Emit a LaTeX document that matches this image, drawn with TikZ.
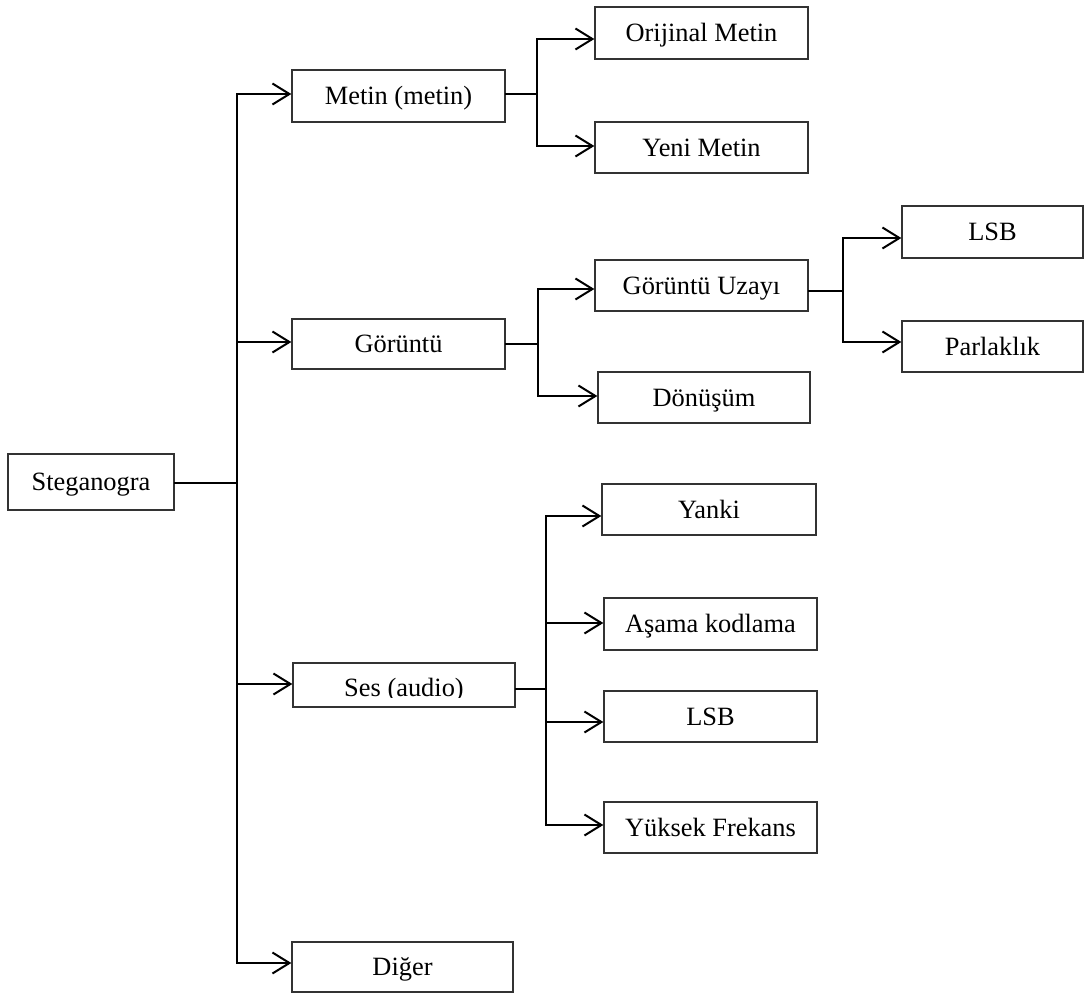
\documentclass[tikz,border=0pt]{standalone}
\usepackage{fontspec}
\setmainfont{Liberation Serif}
\usetikzlibrary{arrows.meta}
\begin{document}
\begin{tikzpicture}[x=1pt,y=-1pt,
  box/.style={draw=black!80, line width=1.3pt, rectangle, inner sep=0pt,
    text height=17.4pt, text depth=0pt, font=\fontsize{26.4}{30}\selectfont},
  lbl/.style={inner sep=0pt, font=\fontsize{26.4}{30}\selectfont},
  conn/.style={draw=black, line width=2pt, line cap=rect},
  arr/.style={draw=black, line width=2pt,
    -{Straight Barb[length=17pt,width=21pt,line width=2pt]}}
]
\useasboundingbox (0,0) rectangle (1085,993);
\fill[white] (0,0) rectangle (1085,993);

% boxes (centre, width, height)
\newcommand{\bx}[7]{\node[box, minimum width=#4-#2, minimum height=#5-#3] (#1) at ({(#2+#4)/2},{(#3+#5)/2}) {#6#7};}
\bx{stego}{8}{454}{174}{510}{Steganogra}{}
\bx{metin}{292}{70}{505}{122}{Metin (metin)}{}
\bx{gor}{292}{319}{505}{369}{Görüntü}{}
\node[box, minimum width=222, minimum height=44] (ses) at (404,685) {};
\begin{scope}
  \clip (294,664) rectangle (514,697.5);
  \node[lbl, anchor=base] (sestext) at (404,696.5) {Ses (audio)};
\end{scope}
\bx{diger}{292}{942}{513}{992}{Diğer}{}
\bx{orij}{595}{7}{808}{59}{Orijinal Metin}{}
\bx{yeni}{595}{122}{808}{173}{Yeni Metin}{}
\bx{gu}{595}{260}{808}{311}{Görüntü Uzayı}{}
\bx{don}{598}{372}{810}{423}{Dönüşüm}{}
\bx{lsbA}{902}{206}{1083}{258}{LSB}{}
\bx{parl}{902}{321}{1083}{372}{Parlaklık}{}
\bx{yanki}{602}{484}{816}{535}{Yanki}{}
\bx{asama}{604}{598}{817}{650}{Aşama kodlama}{}
\bx{lsbB}{604}{691}{817}{742}{LSB}{}
\bx{yuksek}{604}{802}{817}{853}{Yüksek Frekans}{}

% junction coordinates
\coordinate (tSt) at (237,483);
\coordinate (tM) at (237,94);
\coordinate (tG) at (237,342);
\coordinate (tS) at (237,684);
\coordinate (tD) at (237,963);
\coordinate (m0) at (537,94);
\coordinate (mO) at (537,39);
\coordinate (mY) at (537,146);
\coordinate (g0) at (538,344);
\coordinate (gU) at (538,289);
\coordinate (gD) at (538,396);
\coordinate (u0) at (843,291);
\coordinate (uL) at (843,238);
\coordinate (uP) at (843,342);
\coordinate (s0) at (546,689);
\coordinate (sY) at (546,516);
\coordinate (sA) at (546,623);
\coordinate (sL) at (546,722);
\coordinate (sF) at (546,825);

% root
\draw[conn] (stego.east |- tSt) -- (tSt);
\draw[conn] (tM) -- (tD);
\draw[arr] (tM) -- (tM -| metin.west);
\draw[arr] (tG) -- (tG -| gor.west);
\draw[arr] (tS) -- (tS -| ses.west);
\draw[arr] (tD) -- (tD -| diger.west);
% metin
\draw[conn] (metin.east |- m0) -- (m0);
\draw[conn] (mO) -- (mY);
\draw[arr] (mO) -- (mO -| orij.west);
\draw[arr] (mY) -- (mY -| yeni.west);
% goruntu
\draw[conn] (gor.east |- g0) -- (g0);
\draw[conn] (gU) -- (gD);
\draw[arr] (gU) -- (gU -| gu.west);
\draw[arr] (gD) -- (gD -| don.west);
% goruntu uzayi
\draw[conn] (gu.east |- u0) -- (u0);
\draw[conn] (uL) -- (uP);
\draw[arr] (uL) -- (uL -| lsbA.west);
\draw[arr] (uP) -- (uP -| parl.west);
% ses
\draw[conn] (ses.east |- s0) -- (s0);
\draw[conn] (sY) -- (sF);
\draw[arr] (sY) -- (sY -| yanki.west);
\draw[arr] (sA) -- (sA -| asama.west);
\draw[arr] (sL) -- (sL -| lsbB.west);
\draw[arr] (sF) -- (sF -| yuksek.west);
\end{tikzpicture}
\end{document}
